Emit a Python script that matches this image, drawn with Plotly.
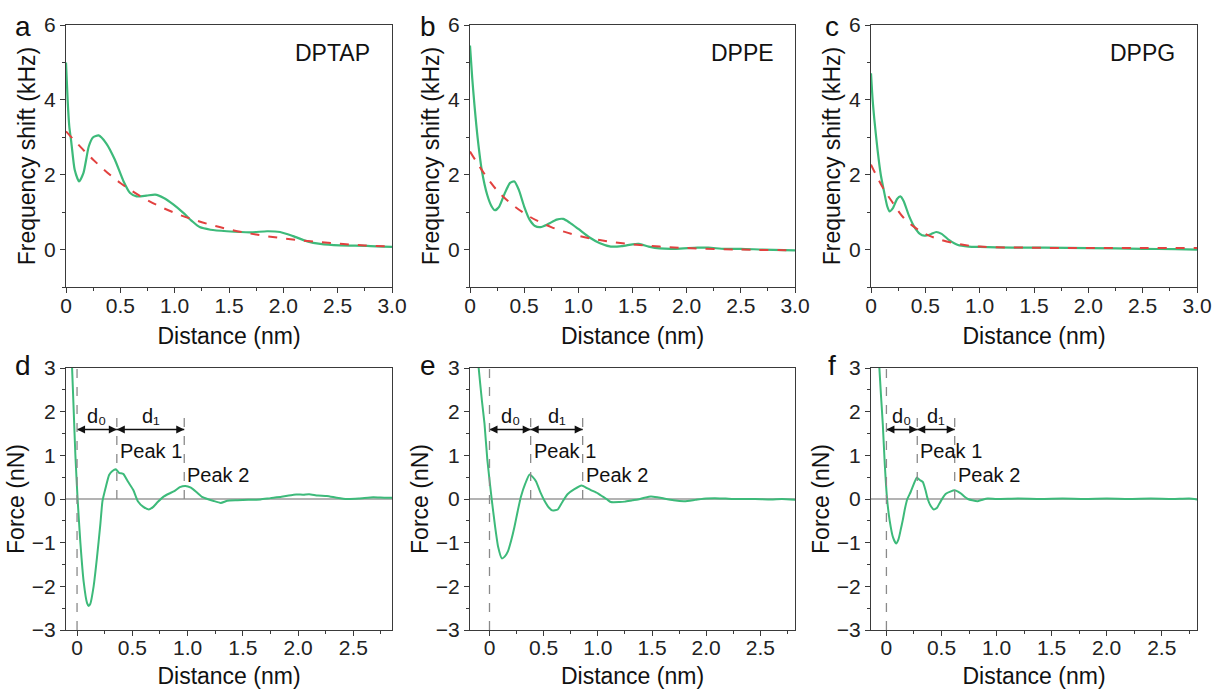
import plotly.graph_objects as go
from plotly.subplots import make_subplots

# ---------------- data: frequency shift (top row) ----------------
lipids = ["DPTAP", "DPPE", "DPPG"]
panel_letters_top = ["a", "b", "c"]
panel_letters_bot = ["d", "e", "f"]

a_x = [0, 0.015, 0.03, 0.05, 0.08, 0.12, 0.16, 0.21, 0.25, 0.30, 0.37, 0.45, 0.53, 0.59, 0.65, 0.74,
       0.82, 0.90, 0.99, 1.08, 1.16, 1.23, 1.33, 1.48, 1.70, 1.85, 1.97, 2.09, 2.22, 2.34, 2.52, 2.77, 3.0]
a_y = [5.0, 4.0, 3.3, 2.84, 2.13, 1.82, 2.04, 2.76, 3.0, 3.05, 2.84, 2.4, 1.82, 1.51, 1.42, 1.44,
       1.47, 1.38, 1.2, 0.98, 0.76, 0.6, 0.53, 0.49, 0.46, 0.49, 0.47, 0.36, 0.22, 0.15, 0.11, 0.10, 0.07]
a_fit_x = [0, 0.25, 0.5, 0.75, 1.0, 1.25, 1.5, 1.75, 2.0, 2.25, 2.5, 2.75, 3.0]
a_fit_y = [3.16, 2.4, 1.78, 1.32, 0.98, 0.73, 0.54, 0.40, 0.30, 0.22, 0.16, 0.11, 0.08]

b_x = [0, 0.02, 0.04, 0.07, 0.11, 0.16, 0.20, 0.23, 0.27, 0.32, 0.37, 0.41, 0.45, 0.50, 0.55, 0.60,
       0.65, 0.72, 0.80, 0.86, 0.92, 1.0, 1.1, 1.2, 1.3, 1.4, 1.5, 1.56, 1.65, 1.75, 1.9, 2.1, 2.2,
       2.35, 2.5, 2.7, 3.0]
b_y = [5.45, 4.6, 3.9, 3.0, 2.1, 1.45, 1.15, 1.05, 1.15, 1.5, 1.78, 1.82, 1.6, 1.15, 0.8, 0.63,
       0.6, 0.68, 0.8, 0.82, 0.72, 0.55, 0.33, 0.17, 0.08, 0.09, 0.14, 0.15, 0.08, 0.03, 0.02, 0.05, 0.05,
       0.02, 0.02, 0.0, -0.02]
b_fit_x = [0, 0.25, 0.5, 0.75, 1.0, 1.25, 1.5, 1.75, 2.0, 2.5, 3.0]
b_fit_y = [2.62, 1.58, 0.97, 0.60, 0.37, 0.23, 0.14, 0.08, 0.04, 0.0, -0.02]

c_x = [0, 0.015, 0.03, 0.06, 0.09, 0.12, 0.15, 0.17, 0.20, 0.24, 0.27, 0.30, 0.35, 0.40, 0.45, 0.49,
       0.55, 0.60, 0.65, 0.72, 0.80, 0.90, 1.0, 1.3, 1.6, 2.0, 2.5, 2.8, 3.0]
c_y = [4.71, 4.0, 3.5, 2.67, 2.0, 1.55, 1.15, 1.02, 1.1, 1.35, 1.42, 1.3, 0.9, 0.6, 0.42, 0.37,
       0.41, 0.47, 0.42, 0.25, 0.12, 0.08, 0.07, 0.05, 0.05, 0.04, 0.02, 0.01, 0.0]
c_fit_x = [0, 0.1, 0.2, 0.3, 0.4, 0.5, 0.6, 0.8, 1.0, 1.5, 2.0, 2.5, 3.0]
c_fit_y = [2.27, 1.7, 1.25, 0.85, 0.6, 0.42, 0.3, 0.15, 0.08, 0.05, 0.04, 0.04, 0.04]

# ---------------- data: force (bottom row) ----------------
d_x = [-0.06, -0.045, -0.03, -0.015, 0.005, 0.03, 0.06, 0.09, 0.105, 0.12, 0.15, 0.18, 0.21, 0.23,
       0.26, 0.29, 0.32, 0.35, 0.38, 0.42, 0.46, 0.51, 0.55, 0.60, 0.65, 0.69, 0.73, 0.78, 0.83, 0.88,
       0.93, 0.98, 1.03, 1.08, 1.13, 1.18, 1.23, 1.30, 1.36, 1.45, 1.55, 1.66, 1.75, 1.85, 1.96, 2.05,
       2.10, 2.18, 2.26, 2.35, 2.44, 2.55, 2.68, 2.78, 2.9]
d_y = [3.8, 3.0, 2.0, 1.0, 0.0, -1.0, -1.9, -2.38, -2.45, -2.4, -2.0, -1.35, -0.6, -0.05,
       0.27, 0.55, 0.64, 0.68, 0.6, 0.57, 0.4, 0.2, -0.05, -0.18, -0.24, -0.18, -0.07, 0.05, 0.12, 0.18,
       0.27, 0.30, 0.26, 0.16, 0.05, 0.0, -0.04, -0.09, -0.04, -0.03, -0.02, -0.01, 0.02, 0.05, 0.10, 0.10,
       0.11, 0.08, 0.07, 0.03, 0.0, 0.01, 0.04, 0.03, 0.03]

e_x = [-0.12, -0.10, -0.07, -0.046, -0.02, 0.02, 0.05, 0.08, 0.114, 0.14, 0.17, 0.20, 0.23, 0.26,
       0.29, 0.33, 0.37, 0.40, 0.43, 0.47, 0.51, 0.55, 0.58, 0.63, 0.67, 0.72, 0.78, 0.85, 0.90, 0.94,
       1.0, 1.03, 1.08, 1.12, 1.2, 1.25, 1.32, 1.37, 1.43, 1.49, 1.55, 1.61, 1.7, 1.8, 1.9, 2.0, 2.08,
       2.18, 2.29, 2.45, 2.6, 2.7, 2.85]
e_y = [3.6, 3.0, 2.25, 1.72, 0.9, 0.0, -0.6, -1.1, -1.36, -1.32, -1.2, -0.95, -0.64, -0.28,
       0.05, 0.35, 0.56, 0.5, 0.4, 0.15, -0.05, -0.2, -0.26, -0.24, -0.08, 0.11, 0.22, 0.31, 0.25, 0.2,
       0.13, 0.08, 0.0, -0.07, -0.07, -0.06, -0.03, -0.01, 0.03, 0.06, 0.04, 0.01, -0.03, -0.05, -0.02, 0.01, 0.02,
       0.01, 0.0, 0.0, -0.01, 0.0, -0.02]

f_x = [-0.08, -0.064, -0.05, -0.033, -0.015, 0.006, 0.03, 0.06, 0.088, 0.11, 0.13, 0.148, 0.17, 0.19,
       0.22, 0.25, 0.275, 0.30, 0.33, 0.355, 0.375, 0.40, 0.43, 0.46, 0.48, 0.51, 0.54, 0.58, 0.62, 0.65,
       0.68, 0.71, 0.74, 0.78, 0.83, 0.88, 0.92, 1.0, 1.2, 1.4, 1.6, 1.8, 2.0, 2.2, 2.4, 2.6, 2.75, 2.85]
f_y = [3.6, 3.0, 2.4, 1.72, 0.8, 0.0, -0.5, -0.88, -1.02, -0.92, -0.7, -0.49, -0.2, 0.0,
       0.16, 0.35, 0.49, 0.44, 0.39, 0.2, 0.0, -0.15, -0.24, -0.2, -0.11, 0.02, 0.12, 0.17, 0.2, 0.17,
       0.12, 0.05, 0.0, -0.03, -0.05, -0.01, 0.01, 0.0, 0.01, 0.0, 0.01, 0.0, 0.01, 0.0, 0.01, 0.0, 0.01, -0.02]

peak1 = [0.36, 0.38, 0.28]
peak2 = [0.97, 0.86, 0.62]
bottom_xrange = [[-0.1, 2.85], [-0.18, 2.82], [-0.14, 2.82]]

top_data = [(a_x, a_y, a_fit_x, a_fit_y), (b_x, b_y, b_fit_x, b_fit_y), (c_x, c_y, c_fit_x, c_fit_y)]
bot_data = [(d_x, d_y), (e_x, e_y), (f_x, f_y)]

# ---------------- styling ----------------
FONT = "Liberation Sans, Arial, sans-serif"
GREEN = "#3dba7a"
RED = "#e2413f"
W, H = 1212, 689
ARROW_Y = 1.59

col_px = [(66, 392), (470, 795), (871, 1197)]
row_px = [(25, 287), (368, 630)]


def xd(px):
    return [px[0] / W, px[1] / W]


def yd(px):
    return [1 - px[1] / H, 1 - px[0] / H]


def px_x(p):
    return p / W


def px_y(p):
    return 1 - p / H


fig = make_subplots(rows=2, cols=3)

for i in range(3):
    gx, gy, fx, fy = top_data[i]
    fig.add_trace(go.Scatter(x=gx, y=gy, mode="lines", line=dict(color=GREEN, width=2.2, shape="spline", smoothing=0.6),
                             showlegend=False), row=1, col=i + 1)
    fig.add_trace(go.Scatter(x=fx, y=fy, mode="lines", line=dict(color=RED, width=2, dash="dash", shape="spline"),
                             showlegend=False), row=1, col=i + 1)
    bx, by = bot_data[i]
    fig.add_trace(go.Scatter(x=bx, y=by, mode="lines", line=dict(color=GREEN, width=2, shape="spline", smoothing=0.5),
                             showlegend=False), row=2, col=i + 1)
    p1, p2 = peak1[i], peak2[i]
    fig.add_trace(go.Scatter(x=[0, p1, None, p1, p2], y=[ARROW_Y, ARROW_Y, None, ARROW_Y, ARROW_Y],
                             mode="lines+markers", line=dict(color="#111", width=1.6),
                             marker=dict(symbol=["arrow-left", "arrow-right", "arrow-left", "arrow-left", "arrow-right"],
                                         size=8, color="#111", line=dict(width=0)),
                             showlegend=False, hoverinfo="skip"), row=2, col=i + 1)

axis_common = dict(showline=True, linecolor="#3a3a3a", linewidth=1.3, mirror=True, ticks="outside",
                   ticklen=5, tickwidth=1.3, tickcolor="#3a3a3a", showgrid=False, zeroline=False,
                   automargin=False, ticklabeloverflow="allow",
                   tickfont=dict(family=FONT, size=21, color="#222"))

top_xticks = [0, 0.5, 1.0, 1.5, 2.0, 2.5, 3.0]
top_xtext = ["0", "0.5", "1.0", "1.5", "2.0", "2.5", "3.0"]
bot_xticks = [0, 0.5, 1.0, 1.5, 2.0, 2.5]
bot_xtext = ["0", "0.5", "1.0", "1.5", "2.0", "2.5"]
TITLE_FONT = dict(family=FONT, size=23, color="#111")

layout_updates = {}
for i in range(3):
    n = i + 1
    layout_updates[f"xaxis{'' if n == 1 else n}"] = dict(
        axis_common, domain=xd(col_px[i]), range=[0, 3], tickvals=top_xticks, ticktext=top_xtext,
        ticklabelstandoff=-5,
        minor=dict(ticks="outside", dtick=0.25, ticklen=3, tickcolor="#3a3a3a"),
        title=dict(text="Distance (nm)", font=TITLE_FONT, standoff=11))
    layout_updates[f"yaxis{'' if n == 1 else n}"] = dict(
        axis_common, domain=yd(row_px[0]), range=[-1, 6], tickvals=[0, 2, 4, 6],
        minor=dict(ticks="outside", dtick=1, ticklen=3, tickcolor="#3a3a3a"),
        title=dict(text="Frequency shift (kHz)", font=TITLE_FONT, standoff=1))
    m = i + 4
    layout_updates[f"xaxis{m}"] = dict(
        axis_common, domain=xd(col_px[i]), range=bottom_xrange[i], tickvals=bot_xticks, ticktext=bot_xtext,
        ticklabelstandoff=-6,
        minor=dict(ticks="outside", dtick=0.25, ticklen=3, tickcolor="#3a3a3a"),
        title=dict(text="Distance (nm)", font=TITLE_FONT, standoff=10))
    layout_updates[f"yaxis{m}"] = dict(
        axis_common, domain=yd(row_px[1]), range=[-3, 3], tickvals=[-3, -2, -1, 0, 1, 2, 3],
        minor=dict(ticks="outside", dtick=0.5, ticklen=3, tickcolor="#3a3a3a"),
        title=dict(text="Force (nN)", font=TITLE_FONT, standoff=0))

fig.update_layout(**layout_updates)

shapes = []
annotations = []
TXT = dict(family=FONT, size=20, color="#111")
for i in range(3):
    xs = "x" if i == 0 else f"x{i + 1}"
    ys = "y" if i == 0 else f"y{i + 1}"
    annotations.append(dict(x=0.94, y=0.895, xref=f"{xs} domain", yref=f"{ys} domain", text=lipids[i],
                            showarrow=False, xanchor="right", yanchor="middle",
                            font=dict(family=FONT, size=23, color="#111")))
    cx = [23, 428, 832][i]
    annotations.append(dict(x=px_x(cx), y=px_y(27), xref="paper", yref="paper", text=panel_letters_top[i],
                            showarrow=False, xanchor="center", yanchor="middle",
                            font=dict(family=FONT, size=28, color="#111")))
    annotations.append(dict(x=px_x(cx), y=px_y(365), xref="paper", yref="paper", text=panel_letters_bot[i],
                            showarrow=False, xanchor="center", yanchor="middle",
                            font=dict(family=FONT, size=28, color="#111")))

    bx = f"x{i + 4}"
    by = f"y{i + 4}"
    shapes.append(dict(type="line", xref=f"{bx} domain", yref=by, x0=0, x1=1, y0=0, y1=0,
                       line=dict(color="#9a9a9a", width=1.5), layer="below"))
    shapes.append(dict(type="line", xref=bx, yref=by, x0=0, x1=0, y0=-3, y1=3,
                       line=dict(color="#8a8a8a", width=1.3, dash="dash")))
    for p in (peak1[i], peak2[i]):
        shapes.append(dict(type="line", xref=bx, yref=by, x0=p, x1=p, y0=0, y1=1.95,
                           line=dict(color="#8a8a8a", width=1.3, dash="dash")))
    annotations.append(dict(x=peak1[i] / 2, y=1.9, xref=bx, yref=by, text="d₀", showarrow=False,
                            xanchor="center", yanchor="middle", font=TXT))
    annotations.append(dict(x=(peak1[i] + peak2[i]) / 2, y=1.9, xref=bx, yref=by, text="d₁",
                            showarrow=False, xanchor="center", yanchor="middle", font=TXT))
    annotations.append(dict(x=peak1[i] + 0.01, y=1.1, xref=bx, yref=by, text="Peak 1", showarrow=False,
                            xanchor="left", yanchor="middle", font=TXT))
    annotations.append(dict(x=peak2[i] + 0.01, y=0.54, xref=bx, yref=by, text="Peak 2", showarrow=False,
                            xanchor="left", yanchor="middle", font=TXT))

fig.update_layout(width=W, height=H, margin=dict(l=0, r=0, t=0, b=0), paper_bgcolor="white",
                  plot_bgcolor="white", shapes=shapes, annotations=annotations, showlegend=False,
                  font=dict(family=FONT, color="#111"))

# remove the default page margin so the 1212x689 figure fills the window exactly
fig.write_html("out.html", config={"displayModeBar": False},
               post_script="document.body.style.margin='0';document.body.style.overflow='hidden';")
